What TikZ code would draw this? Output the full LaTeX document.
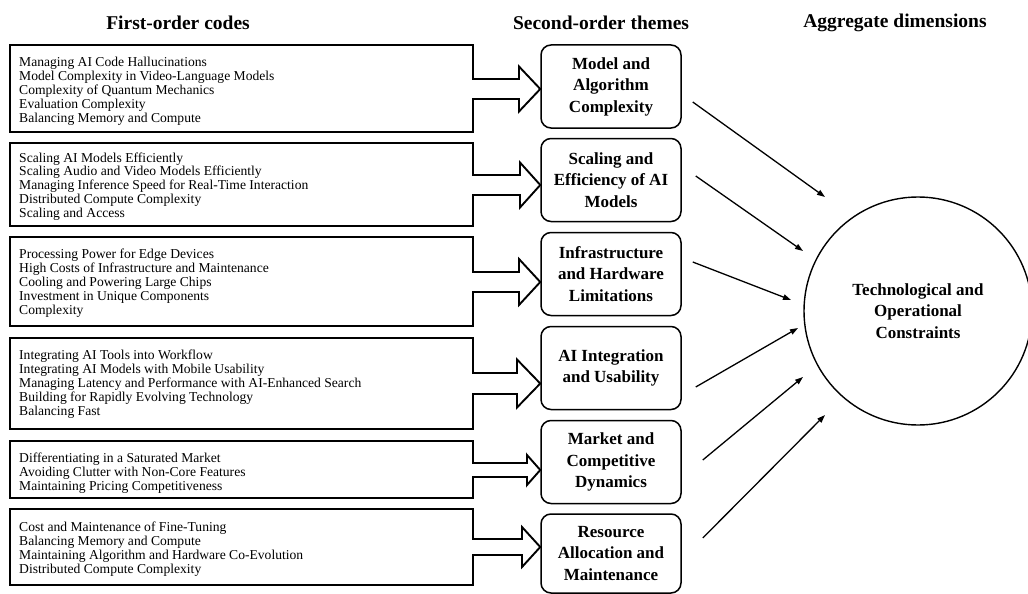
\documentclass[tikz,border=0pt]{standalone}
\usepackage{fontspec}
\setmainfont{Liberation Serif}
\usetikzlibrary{arrows.meta}
\begin{document}
\begin{tikzpicture}[x=1pt,y=-1pt,
  header/.style={font=\fontsize{19.5}{22}\selectfont\bfseries, inner sep=0},
  codetext/.style={font=\fontsize{13.6}{13.9}\selectfont, align=left, anchor=west, inner sep=0},
  codebox/.style={line width=1.9pt, line join=miter},
  theme/.style={draw, line width=1.5pt, rounded corners=10pt, minimum width=140pt,
    minimum height=83pt, align=center, inner sep=0,
    font=\fontsize{17}{21.5}\selectfont\bfseries},
  aggregate/.style={draw, circle, line width=1.4pt, minimum size=228pt, align=center,
    inner sep=0, font=\fontsize{17}{21.5}\selectfont\bfseries},
  link/.style={line width=1.3pt, -{Triangle[length=8pt,width=5.5pt]}}]
\useasboundingbox (0,0) rectangle (1028,594);

% column headings
\node[header] (h1) at (178,23) {First-order codes};
\node[header] (h2) at (601,23) {Second-order themes};
\node[header] (h3) at (895,23) {Aggregate dimensions};

% second-order themes
\node[theme] (t1) at (611,86.5) {Model and\\Algorithm\\Complexity};
\node[theme] (t2) at (611,180) {Scaling and\\Efficiency of AI\\Models};
\node[theme] (t3) at (611,274) {Infrastructure\\and Hardware\\Limitations};
\node[theme] (t4) at (611,368) {AI Integration\\and Usability};
\node[theme] (t5) at (611,462) {Market and\\Competitive\\Dynamics};
\node[theme, minimum height=79pt] (t6) at (611,553.5) {Resource\\Allocation and\\Maintenance};

% aggregate dimension
\node[aggregate] (agg) at (918,311) {Technological and\\Operational\\Constraints};

% first-order codes
\node[codetext] (c1) at (19,91) {Managing AI Code Hallucinations\\Model Complexity in Video-Language Models\\Complexity of Quantum Mechanics\\Evaluation Complexity\\Balancing Memory and Compute};
\node[codetext] (c2) at (19,186.5) {Scaling AI Models Efficiently\\Scaling Audio and Video Models Efficiently\\Managing Inference Speed for Real-Time Interaction\\Distributed Compute Complexity\\Scaling and Access};
\node[codetext] (c3) at (19,283) {Processing Power for Edge Devices\\High Costs of Infrastructure and Maintenance\\Cooling and Powering Large Chips\\Investment in Unique Components\\Complexity};
\node[codetext] (c4) at (19,384) {Integrating AI Tools into Workflow\\Integrating AI Models with Mobile Usability\\Managing Latency and Performance with AI-Enhanced Search\\Building for Rapidly Evolving Technology\\Balancing Fast};
\node[codetext] (c5) at (19,473) {Differentiating in a Saturated Market\\Avoiding Clutter with Non-Core Features\\Maintaining Pricing Competitiveness};
\node[codetext] (c6) at (19,549) {Cost and Maintenance of Fine-Tuning\\Balancing Memory and Compute\\Maintaining Algorithm and Hardware Co-Evolution\\Distributed Compute Complexity};

% code boxes, each running out into a block arrow that ends on its theme
% index / top / bottom / arrow axis / shaft half-width / head half-width / head base
\foreach \i/\T/\B/\m/\s/\h/\b in {1/45/132/89/10/22.5/519, 2/143/226/185/10/22.5/520,
    3/237/326/282/10/23/519, 4/338/429/383.5/10.5/24/517,
    5/441/498/470/7/15/527, 6/509/585/547/8/20/522}{
  \draw[codebox] (10,\T) -- (473,\T) -- (473,{\m-\s}) -- (\b,{\m-\s}) -- (\b,{\m-\h})
    -- (t\i.west |- 0,\m) -- (\b,{\m+\h}) -- (\b,{\m+\s}) -- (473,{\m+\s})
    -- (473,\B) -- (10,\B) -- cycle;
}

% themes feeding the aggregate dimension
\coordinate (e1) at (825,197);
\coordinate (e2) at (803,251);
\coordinate (e3) at (791,300);
\coordinate (e4) at (798,328);
\coordinate (e5) at (803,377);
\coordinate (e6) at (825,415);
\draw[link] ([shift={(11,15.5)}]t1.east) -- (e1);
\draw[link] ([shift={(14,-4)}]t2.east) -- (e2);
\draw[link] ([shift={(11,-12)}]t3.east) -- (e3);
\draw[link] ([shift={(14,19)}]t4.east) -- (e4);
\draw[link] ([shift={(21,-2)}]t5.east) -- (e5);
\draw[link] ([shift={(21,-15.5)}]t6.east) -- (e6);
\end{tikzpicture}
\end{document}
